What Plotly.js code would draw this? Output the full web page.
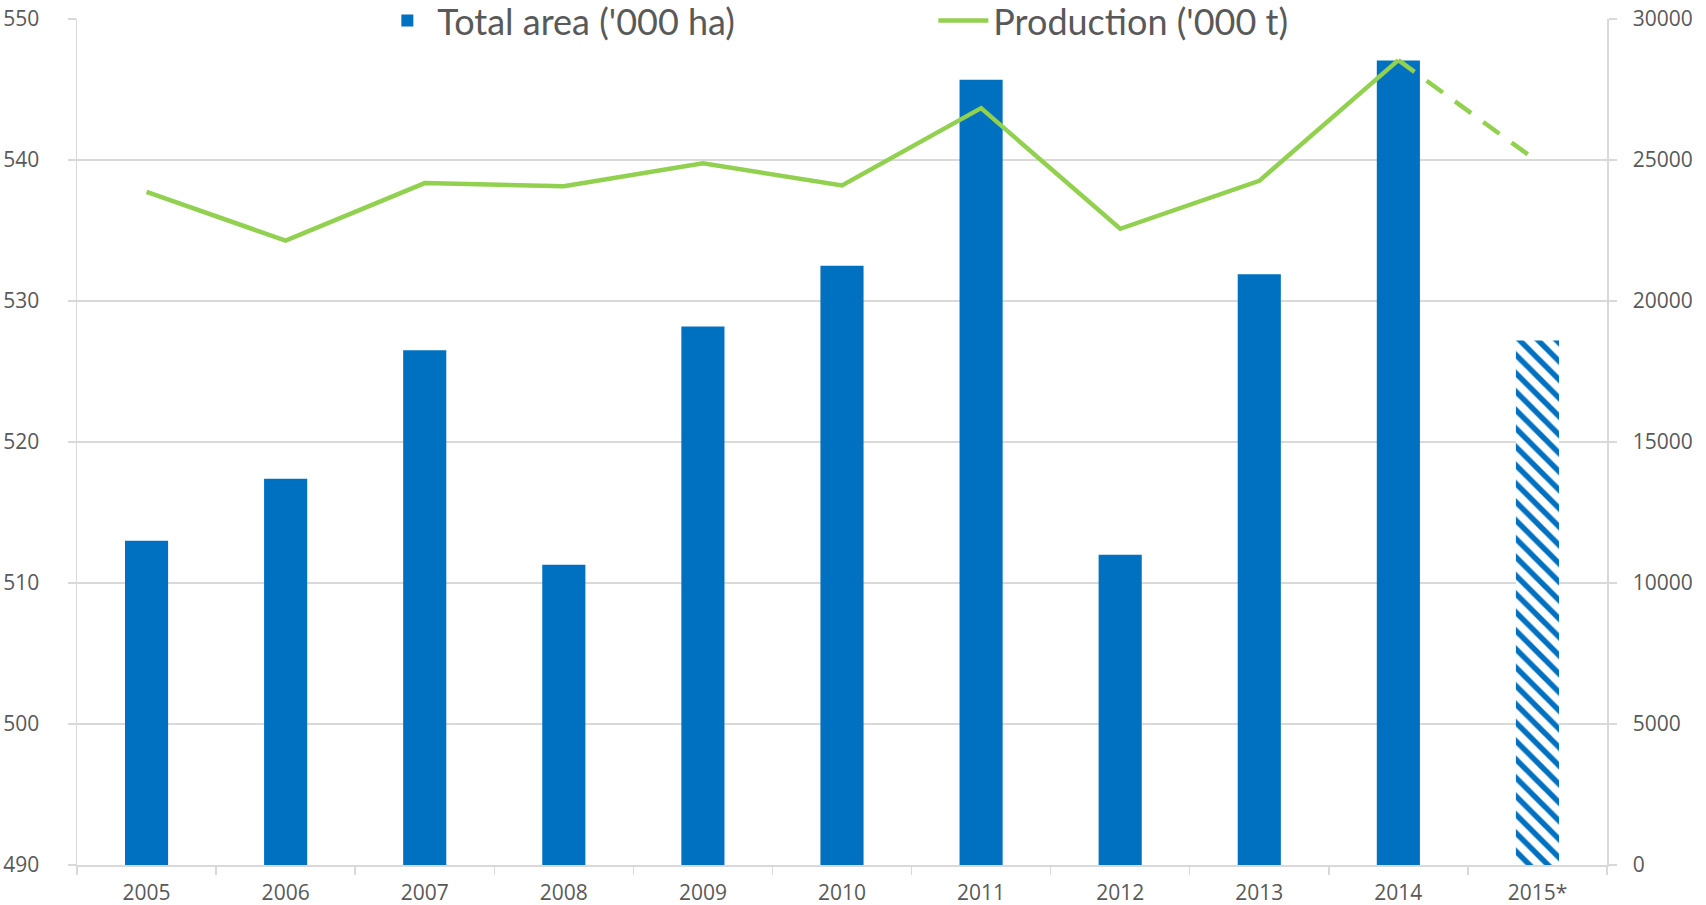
<!DOCTYPE html>
<html>
<head>
<meta charset="utf-8">
<script src="https://cdn.plot.ly/plotly-3.0.1.min.js"></script>
<style>html,body{margin:0;padding:0;background:#fff;}#chart{width:1706px;height:905px;}</style>
</head>
<body>
<div id="chart"></div>
<script>
const years = ['2005','2006','2007','2008','2009','2010','2011','2012','2013','2014','2015*'];
const totalArea = [513.0, 517.4, 526.5, 511.3, 528.2, 532.5, 545.7, 512.0, 531.9, 547.05, 527.2];
const production = [23870, 22140, 24180, 24070, 24880, 24100, 26840, 22560, 24260, 28540, null];
const productionForecastYears = ['2014', '2015*'];
const productionForecast = [28540, 24950];
const barPatterns = ['', '', '', '', '', '', '', '', '', '', '\\'];

const gridColor = '#d9d9d9';
const textColor = '#595959';
const fontFam = 'Open Sans, sans-serif';

const traces = [
  {
    type: 'bar', name: "Total area ('000 ha)", x: years, y: totalArea,
    marker: {color: '#0070C0', line: {width: 0},
      pattern: {shape: barPatterns, fgcolor: '#0070C0', bgcolor: '#ffffff', size: 13, solidity: 0.42}},
    yaxis: 'y', hoverinfo: 'x+y'
  },
  {
    type: 'scatter', mode: 'lines', name: "Production ('000 t)", x: years, y: production,
    line: {color: '#92D050', width: 4.5}, yaxis: 'y2', connectgaps: false
  },
  {
    type: 'scatter', mode: 'lines', name: 'Production forecast', x: productionForecastYears, y: productionForecast,
    line: {color: '#92D050', width: 4.5, dash: '20px,15px'}, yaxis: 'y2', showlegend: false
  }
];

const layout = {
  width: 1706, height: 905,
  margin: {l: 77, r: 99, t: 18.5, b: 40, pad: 0, autoexpand: false},
  paper_bgcolor: '#ffffff', plot_bgcolor: '#ffffff',
  font: {family: fontFam, color: textColor, size: 21},
  bargap: 0.69,
  showlegend: true,
  legend: {
    orientation: 'h', x: 0.1963, xanchor: 'left', y: 0.998, yanchor: 'middle',
    bgcolor: 'rgba(0,0,0,0)', font: {size: 36, family: 'Lato, sans-serif', color: textColor},
    entrywidth: 491, entrywidthmode: 'pixels', itemwidth: 50, tracegroupgap: 0
  },
  xaxis: {
    type: 'category', showgrid: false, showline: true, linecolor: gridColor, linewidth: 1.5,
    ticks: 'outside', tickson: 'boundaries', ticklen: 8, tickcolor: gridColor, tickwidth: 1.5,
    tickfont: {size: 21, color: textColor}, ticklabelstandoff: 8, fixedrange: true
  },
  yaxis: {
    range: [490, 550], dtick: 10, tick0: 490, showgrid: true, gridcolor: gridColor, gridwidth: 1.5,
    showline: true, linecolor: gridColor, linewidth: 1.5, zeroline: false,
    ticks: 'outside', ticklen: 8, tickcolor: gridColor, tickwidth: 1.5,
    tickfont: {size: 21, color: textColor}, ticklabelstandoff: 24
  },
  yaxis2: {
    overlaying: 'y', side: 'right', range: [0, 30000], dtick: 5000, showgrid: false,
    showline: true, linecolor: gridColor, linewidth: 1.5, zeroline: false, tickformat: 'd',
    ticks: 'outside', ticklen: 8, tickcolor: gridColor, tickwidth: 1.5,
    tickfont: {size: 21, color: textColor}, ticklabelstandoff: 12
  }
};

Plotly.newPlot('chart', traces, layout, {displayModeBar: false, staticPlot: true});
</script>
</body>
</html>
